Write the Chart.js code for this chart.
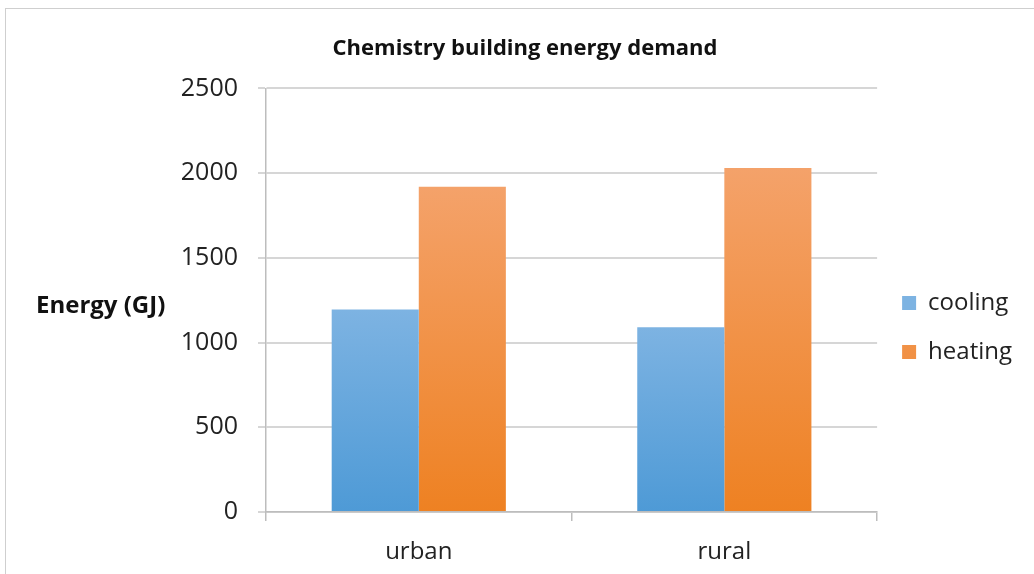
<!DOCTYPE html>
<html lang="en">
<head>
<meta charset="UTF-8" />
<title>Chemistry building energy demand</title>
<script src="https://cdn.jsdelivr.net/npm/chart.js"></script>
<style>
html, body {
  margin: 0;
  padding: 0;
  background: #fff;
  overflow: hidden;
}
.frame {
  position: absolute;
  left: 5px;
  top: 8px;
  width: 1100px;
  height: 700px;
  border: 1px solid #cfcfcf;
  box-sizing: border-box;
}
.wrap {
  position: absolute;
  left: 0;
  top: 0;
  width: 1034px;
  height: 574px;
}
.ylabel {
  position: absolute;
  left: 36px;
  top: 289px;
  font-family: 'Open Sans', sans-serif;
  font-weight: bold;
  font-size: 24px;
  line-height: 30px;
  color: #111;
}
</style>
</head>
<body>
<div class="frame"></div>
<div class="wrap">
  <canvas id="chart" width="1034" height="574"></canvas>
</div>
<div class="ylabel">Energy (GJ)</div>

<script>
const categories = ['urban', 'rural'];
const cooling = [1195, 1090];
const heating = [1920, 2030];
const yTicks = [0, 500, 1000, 1500, 2000, 2500];

const FONT = "'Open Sans', sans-serif";

// each bar gets its own light-to-dark vertical gradient
function barFill(top, bottom, solid) {
  return function (ctx) {
    if (ctx.type !== 'data') return solid;
    const chart = ctx.chart;
    const y = chart.scales.y;
    if (!y) return solid;
    const y0 = y.getPixelForValue(ctx.raw);
    const y1 = y.getPixelForValue(0);
    if (!isFinite(y0) || !isFinite(y1) || y1 - y0 < 1) return solid;
    const g = chart.ctx.createLinearGradient(0, y0, 0, y1);
    g.addColorStop(0, top);
    g.addColorStop(1, bottom);
    return g;
  };
}

new Chart(document.getElementById('chart').getContext('2d'), {
  type: 'bar',
  data: {
    labels: categories,
    datasets: [
      {
        label: 'cooling',
        data: cooling,
        backgroundColor: barFill('#7db3e2', '#4e9ad6', '#5a9fd8'),
        borderWidth: 0
      },
      {
        label: 'heating',
        data: heating,
        backgroundColor: barFill('#f4a26a', '#ee8122', '#f08a34'),
        borderWidth: 0
      }
    ]
  },
  options: {
    responsive: false,
    animation: false,
    categoryPercentage: 0.57,
    barPercentage: 1.0,
    layout: {
      padding: { left: 28, right: 12, top: 20, bottom: -9 }
    },
    plugins: {
      title: {
        display: true,
        text: 'Chemistry building energy demand',
        color: '#111',
        font: { family: FONT, size: 22, weight: 'bold' },
        padding: { top: 16, bottom: 26 }
      },
      legend: {
        position: 'right',
        title: {
          display: true,
          text: '',
          font: { size: 10 },
          padding: { top: 40, bottom: 0 }
        },
        labels: {
          color: '#222',
          font: { family: FONT, size: 24 },
          boxWidth: 14,
          boxHeight: 14,
          padding: 25
        }
      },
      tooltip: { enabled: false }
    },
    scales: {
      x: {
        grid: {
          display: true,
          drawOnChartArea: false,
          drawTicks: true,
          tickLength: 9,
          color: '#bdbdbd',
          lineWidth: 1.5
        },
        border: { display: true, color: '#bdbdbd', width: 1.5 },
        ticks: {
          color: '#222',
          font: { family: FONT, size: 24, lineHeight: 1.0 },
          padding: 19
        }
      },
      y: {
        min: 0,
        max: 2500,
        afterFit: function (scale) { scale.width = 238; },
        afterBuildTicks: function (scale) {
          scale.ticks = yTicks.map(v => ({ value: v }));
        },
        grid: {
          color: '#d6d6d6',
          lineWidth: 2,
          tickLength: 8
        },
        border: { display: true, color: '#bdbdbd', width: 1.5 },
        ticks: {
          color: '#222',
          font: { family: FONT, size: 25 },
          padding: 20,
          callback: v => String(v)
        }
      }
    }
  }
});
</script>
</body>
</html>
